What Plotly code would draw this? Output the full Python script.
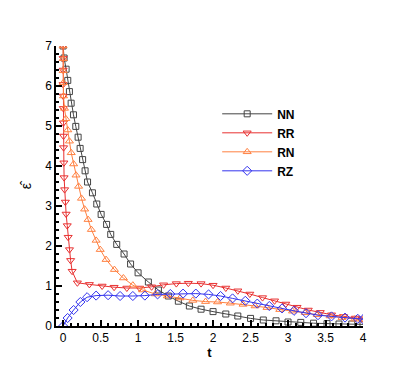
# %%
import plotly.graph_objects as go

# %%
# values (marker positions)
t_nn = [0, 0.013, 0.04, 0.062, 0.084, 0.107, 0.138, 0.169, 0.2, 0.227, 0.26, 0.293, 0.326,
        0.391, 0.449, 0.507, 0.58, 0.635, 0.715, 0.813, 0.9, 1.0, 1.137, 1.271, 1.404,
        1.537, 1.684, 1.84, 2.0, 2.17, 2.33, 2.5, 2.67, 2.84, 3.0, 3.17, 3.34, 3.52,
        3.68, 3.85, 4.0]
eps_nn = [7.0, 6.70, 6.42, 6.14, 5.86, 5.57, 5.28, 4.99, 4.72, 4.44, 4.16, 3.88, 3.60,
          3.33, 3.05, 2.79, 2.54, 2.29, 2.04, 1.80, 1.55, 1.33, 1.10, 0.90, 0.75,
          0.62, 0.50, 0.42, 0.36, 0.30, 0.25, 0.19, 0.15, 0.13, 0.10, 0.09, 0.07, 0.06,
          0.05, 0.05, 0.04]

t_rr = [0, 0, 0, 0, 0.001, 0.003, 0.004, 0.005, 0.006, 0.01, 0.013, 0.02, 0.03, 0.04,
        0.055, 0.067, 0.085, 0.1, 0.12, 0.19, 0.35, 0.52, 0.68, 0.85, 1.02, 1.18, 1.34,
        1.51, 1.67, 1.84, 2.0, 2.17, 2.33, 2.49, 2.66, 2.82, 2.97, 3.12, 3.27, 3.43,
        3.58, 3.74, 3.9, 4.0]
eps_rr = [7.0, 6.69, 6.40, 6.04, 5.75, 5.44, 5.08, 4.75, 4.46, 4.08, 3.71, 3.41, 3.10, 2.80,
          2.51, 2.22, 1.91, 1.64, 1.37, 1.08, 1.04, 1.0, 0.97, 0.95, 0.95, 0.98, 1.03,
          1.06, 1.07, 1.06, 1.02, 0.95, 0.88, 0.80, 0.71, 0.63, 0.55, 0.47, 0.40, 0.34,
          0.28, 0.24, 0.20, 0.18]

t_rn = [0, 0, 0, 0.002, 0.005, 0.018, 0.036, 0.062, 0.084, 0.108, 0.14, 0.172, 0.206,
        0.245, 0.287, 0.333, 0.377, 0.44, 0.495, 0.573, 0.684, 0.804, 0.93, 1.06, 1.23,
        1.39, 1.56, 1.73, 1.9, 2.06, 2.23, 2.4, 2.56, 2.72, 2.89, 3.06, 3.23, 3.39,
        3.56, 3.72, 3.89, 4.0]
eps_rn = [7.0, 6.68, 6.38, 6.08, 5.75, 5.44, 5.18, 4.90, 4.62, 4.33, 4.05, 3.77, 3.49,
          3.19, 2.92, 2.66, 2.41, 2.14, 1.91, 1.66, 1.41, 1.20, 1.02, 0.90, 0.80,
          0.75, 0.70, 0.64, 0.61, 0.60, 0.57, 0.54, 0.50, 0.46, 0.41, 0.37, 0.33, 0.28,
          0.25, 0.21, 0.17, 0.15]

t_rz = [0, 0.06, 0.14, 0.23, 0.32, 0.44, 0.6, 0.76, 0.93, 1.09, 1.26, 1.43, 1.6, 1.77,
        1.94, 2.1, 2.26, 2.43, 2.59, 2.75, 2.92, 3.08, 3.24, 3.4, 3.58, 3.76, 3.93, 4.0]
eps_rz = [0, 0.20, 0.40, 0.60, 0.72, 0.76, 0.77, 0.75, 0.75, 0.76, 0.79, 0.80, 0.81, 0.81,
          0.79, 0.75, 0.69, 0.63, 0.56, 0.50, 0.44, 0.38, 0.32, 0.27, 0.24, 0.21, 0.18, 0.17]

# %%
fig = go.Figure()

fig.add_trace(go.Scatter(x=t_nn, y=eps_nn, name="NN", mode="lines+markers",
                         line=dict(color="#444444", width=1),
                         marker=dict(symbol="square-open", size=6, line=dict(width=1))))
fig.add_trace(go.Scatter(x=t_rr, y=eps_rr, name="RR", mode="lines+markers",
                         line=dict(color="#e83030", width=1),
                         marker=dict(symbol="triangle-down-open", size=7, line=dict(width=1))))
fig.add_trace(go.Scatter(x=t_rn, y=eps_rn, name="RN", mode="lines+markers",
                         line=dict(color="#ff8040", width=1),
                         marker=dict(symbol="triangle-up-open", size=7, line=dict(width=1))))
fig.add_trace(go.Scatter(x=t_rz, y=eps_rz, name="RZ", mode="lines+markers",
                         line=dict(color="#3333ee", width=1),
                         marker=dict(symbol="diamond-open", size=7, line=dict(width=1))))

axis_style = dict(showline=True, linecolor="black", linewidth=1.5, mirror=False,
                  showgrid=False, zeroline=False, ticks="inside", ticklen=6,
                  tickwidth=1.5, tickcolor="black", automargin=False,
                  tickfont=dict(family="Liberation Sans", size=12, color="black"))

fig.update_xaxes(range=[-0.095, 4], dtick=0.5, tick0=0,
                 minor=dict(ticks="inside", ticklen=3, dtick=0.1, tickcolor="black"),
                 title=dict(text="<b>t</b>", standoff=0,
                            font=dict(family="Liberation Sans", size=13, color="black")),
                 **axis_style)
fig.update_yaxes(range=[0, 7], dtick=1, tick0=0,
                 minor=dict(ticks="inside", ticklen=3, dtick=0.2, tickcolor="black"),
                 title=dict(text="ε̂", standoff=10,
                            font=dict(family="Liberation Sans", size=14, color="black")),
                 **axis_style)

# page body adds an 8px offset, so margins are shifted back by 8
fig.update_layout(
    width=415, height=369,
    margin=dict(l=48, r=60, t=38, b=51),
    plot_bgcolor="white", paper_bgcolor="white",
    legend=dict(x=0.525, y=0.656, xanchor="left", yanchor="middle",
                bgcolor="rgba(0,0,0,0)", itemwidth=50,
                font=dict(family="Liberation Sans", size=12, color="black", weight="bold")),
)

fig.write_html("out.html")
